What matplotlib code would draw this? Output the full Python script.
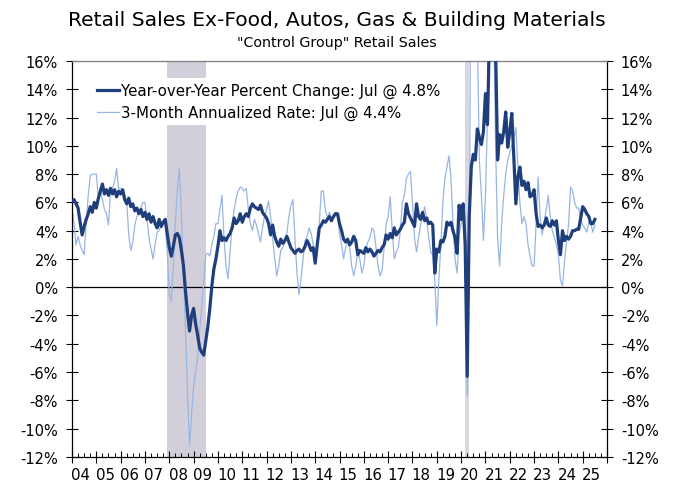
import numpy as np
import matplotlib
matplotlib.use("Agg")
import matplotlib.pyplot as plt
from matplotlib.ticker import FixedLocator, FuncFormatter

# ---------------- data (monthly, Jan 2004 - Jul 2025) ----------------
start_year = 2004
yoy = [
    6.1, 6.2, 5.9, 5.6, 4.6, 3.7, 4.3, 4.8, 5.2, 5.7, 5.3, 6.0,      # 2004
    5.6, 6.3, 6.8, 7.3, 6.6, 6.9, 6.5, 7.0, 6.6, 6.9, 6.4, 6.8,      # 2005
    6.6, 6.9, 6.2, 5.9, 6.3, 5.7, 5.9, 5.4, 5.6, 5.2, 5.5, 5.0,      # 2006
    5.3, 4.8, 5.2, 4.6, 5.0, 4.5, 4.2, 4.8, 4.3, 4.6, 4.8, 3.8,      # 2007
    2.8, 2.2, 2.9, 3.7, 3.8, 3.5, 2.6, 1.5, -0.3, -1.8, -3.1, -2.0,  # 2008
    -1.5, -2.6, -3.4, -4.3, -4.6, -4.8, -3.8, -2.8, -1.5, 0.1, 1.3, 2.0,  # 2009
    2.9, 4.0, 3.3, 3.5, 3.3, 3.6, 3.8, 4.2, 4.9, 4.5, 4.7, 5.2,      # 2010
    4.6, 5.0, 5.2, 5.0, 5.6, 5.9, 5.7, 5.6, 5.5, 5.8, 5.3, 5.1,      # 2011
    4.9, 4.5, 3.7, 4.4, 3.6, 3.2, 2.9, 3.4, 3.1, 3.3, 3.6, 3.2,      # 2012
    2.8, 2.6, 2.4, 2.6, 2.7, 2.5, 2.6, 2.9, 3.3, 3.0, 2.6, 2.8,      # 2013
    1.7, 3.0, 4.2, 4.4, 4.7, 4.6, 4.8, 5.0, 4.7, 5.0, 5.2, 5.2,      # 2014
    4.5, 4.0, 3.4, 3.2, 3.4, 3.0, 3.2, 3.6, 3.3, 2.3, 2.6, 2.5,      # 2015
    2.4, 2.8, 2.5, 2.7, 2.5, 2.2, 2.4, 2.6, 2.5, 2.8, 3.0, 3.7,      # 2016
    3.4, 3.8, 3.5, 4.2, 3.7, 3.9, 4.1, 4.4, 4.6, 5.9, 5.2, 4.9,      # 2017
    4.6, 4.3, 5.9, 5.0, 4.8, 5.3, 4.7, 4.9, 4.5, 4.6, 4.4, 1.0,      # 2018
    2.7, 2.5, 3.3, 3.2, 3.6, 4.6, 4.4, 4.6, 4.0, 3.5, 2.4, 5.8,      # 2019
    4.8, 5.9, 3.0, -6.3, 5.0, 8.5, 9.4, 9.0, 11.2, 10.6, 10.1, 11.0, # 2020
    13.7, 11.5, 18.0, 25.0, 19.0, 17.0, 9.0, 10.8, 10.2, 11.0, 12.4, 9.9,  # 2021
    11.0, 12.3, 9.2, 5.9, 7.8, 8.5, 7.2, 7.5, 6.9, 7.4, 6.4, 6.5,    # 2022
    6.9, 5.2, 4.3, 4.4, 4.2, 4.4, 4.9, 4.4, 4.3, 4.7, 4.4, 4.7,      # 2023
    3.3, 2.3, 4.0, 3.3, 3.6, 3.4, 3.6, 4.0, 4.0, 4.1, 4.1, 4.9,      # 2024
    5.7, 5.5, 5.2, 5.0, 4.5, 4.5, 4.8,                               # 2025
]
ann3m = [
    5.6, 4.5, 3.0, 3.6, 3.0, 2.6, 2.3, 4.5, 6.5, 7.9, 8.0, 8.0,      # 2004
    8.0, 6.3, 7.0, 6.2, 5.5, 5.2, 4.4, 6.8, 7.0, 7.5, 8.4, 7.0,      # 2005
    7.0, 6.8, 6.5, 6.0, 3.7, 2.6, 3.2, 4.4, 5.0, 5.3, 5.6, 6.0,      # 2006
    6.0, 4.8, 3.5, 2.7, 2.0, 3.0, 3.9, 4.0, 4.4, 4.5, 4.4, 2.5,      # 2007
    -0.5, -1.0, 1.5, 4.5, 7.0, 8.4, 5.0, 1.0, -3.0, -7.5, -11.2, -9.0,  # 2008
    -7.0, -6.0, -5.0, -3.0, -1.5, 0.5, 2.3, 2.4, 2.2, 3.0, 3.6, 4.5,  # 2009
    4.5, 5.5, 6.5, 3.5, 1.5, 0.6, 2.5, 4.4, 5.5, 6.3, 6.8, 7.1,      # 2010
    7.0, 6.8, 7.0, 5.5, 4.5, 4.0, 4.8, 4.4, 3.8, 3.2, 4.2, 5.0,      # 2011
    5.5, 6.1, 5.0, 3.5, 2.0, 0.8, 1.5, 2.6, 2.8, 3.2, 3.8, 5.0,      # 2012
    5.8, 6.2, 3.5, 1.0, -0.5, 0.6, 2.0, 3.3, 3.6, 4.2, 3.8, 3.0,     # 2013
    2.0, 3.2, 4.5, 6.8, 6.8, 5.5, 4.9, 5.3, 4.8, 5.1, 5.3, 5.0,      # 2014
    3.8, 3.0, 2.0, 2.8, 3.3, 2.8, 1.5, 0.8, 1.5, 2.5, 2.0, 1.0,      # 2015
    1.5, 2.8, 3.2, 3.5, 4.2, 4.0, 2.8, 1.5, 0.8, 1.2, 2.8, 4.5,      # 2016
    5.0, 6.4, 4.0, 2.0, 2.5, 2.8, 4.0, 6.0, 6.5, 7.7, 8.0, 8.2,      # 2017
    6.0, 3.5, 2.5, 3.5, 4.4, 5.0, 5.7, 4.8, 3.5, 2.5, 2.3, 0.5,      # 2018
    -2.7, 0.5, 3.0, 6.0, 7.7, 8.5, 9.3, 7.7, 4.5, 2.0, 1.0, 3.7,     # 2019
    4.5, 5.6, 2.0, -7.7, 1.0, 30.0, 40.0, 28.0, 18.0, 9.0, 6.5, 3.3, # 2020
    6.4, 12.0, 30.0, 35.0, 20.0, 10.0, 3.5, 1.5, 4.5, 6.5, 8.0, 9.0, # 2021
    9.5, 10.0, 10.5, 11.3, 8.5, 6.0, 4.5, 5.0, 4.5, 3.0, 2.2, 1.5,   # 2022
    1.5, 4.5, 7.8, 5.0, 3.7, 4.6, 5.5, 6.5, 5.0, 4.0, 3.5, 3.0,      # 2023
    2.3, 0.5, 0.1, 1.8, 3.2, 4.4, 7.1, 6.8, 6.0, 5.6, 5.6, 4.8,      # 2024
    4.4, 4.2, 3.9, 4.6, 4.5, 3.9, 4.4,                               # 2025
]
recessions = [(2007 + 11/12, 2009 + 6/12), (2020 + 2/12, 2020 + 3.7/12)]
year_labels = [f"{y % 100:02d}" for y in range(2004, 2026)]
y_ticks = list(range(-12, 17, 2))
title = "Retail Sales Ex-Food, Autos, Gas & Building Materials"
subtitle = "\"Control Group\" Retail Sales"
label_yoy = "Year-over-Year Percent Change: Jul @ 4.8%"
label_3m = "3-Month Annualized Rate: Jul @ 4.4%"

# ---------------- plotting ----------------
plt.rcParams['font.family'] = ['DejaVu Sans']
fig = plt.figure(figsize=(6.73, 4.85), dpi=100)
ax = fig.add_axes([0.107, 0.056, 0.795, 0.816])

x_yoy = start_year + np.arange(len(yoy)) / 12.0
x_3m = start_year + np.arange(len(ann3m)) / 12.0

ax.axvspan(*recessions[0], color='#d3cfda', lw=0, zorder=0)
ax.axvspan(*recessions[1], color='#d9d7de', lw=0, zorder=0)

ax.axhline(0, color='black', lw=0.9, zorder=1)
l2, = ax.plot(x_3m, ann3m, color='#98b6e4', lw=0.9, zorder=2, label=label_3m)
l1, = ax.plot(x_yoy, yoy, color='#1f3e7c', lw=2.3, zorder=3, label=label_yoy)

ax.set_xlim(2004, 2026)
ax.set_ylim(-12, 16)

ax.set_yticks(y_ticks)
ax.yaxis.set_major_formatter(FuncFormatter(lambda v, p: f"{int(v)}%"))
ax.tick_params(axis='y', which='major', direction='inout', length=8, width=0.8,
               left=True, right=True, labelleft=True, labelright=True,
               labelsize=10.5, pad=6)

years = np.arange(2004, 2027)
ax.xaxis.set_major_locator(FixedLocator(years))
quarters = [y + q / 4 for y in range(2004, 2026) for q in (1, 2, 3)]
ax.xaxis.set_minor_locator(FixedLocator(quarters))
ax.tick_params(axis='x', which='major', direction='inout', length=8, width=0.8,
               labelbottom=False)
ax.tick_params(axis='x', which='minor', direction='in', length=3, width=0.7)

sec = ax.secondary_xaxis('bottom')
sec.set_xticks(np.arange(2004, 2026) + 0.36)
sec.set_xticklabels(year_labels)
sec.tick_params(length=0, labelsize=10.8, pad=7)
sec.spines['bottom'].set_visible(False)

for s in ['left', 'right', 'bottom']:
    ax.spines[s].set_color('black')
    ax.spines[s].set_linewidth(0.9)
ax.spines['top'].set_color('#7f7f7f')
ax.spines['top'].set_linewidth(0.9)

leg = ax.legend(handles=[l1, l2], loc='upper left', bbox_to_anchor=(0.025, 0.975),
                frameon=True, fontsize=10.8, handlelength=1.45, handletextpad=0.15,
                labelspacing=0.45, borderpad=0.3, framealpha=1.0)
leg.get_frame().set_edgecolor('white')
leg.get_frame().set_facecolor('white')
leg.get_frame().set_linewidth(0)
leg.set_zorder(5)

fig.text(0.5, 0.958, title, ha='center', va='center', fontsize=14.6)
fig.text(0.5, 0.911, subtitle, ha='center', va='center', fontsize=10.3)

fig.savefig('out.png', dpi=100)
